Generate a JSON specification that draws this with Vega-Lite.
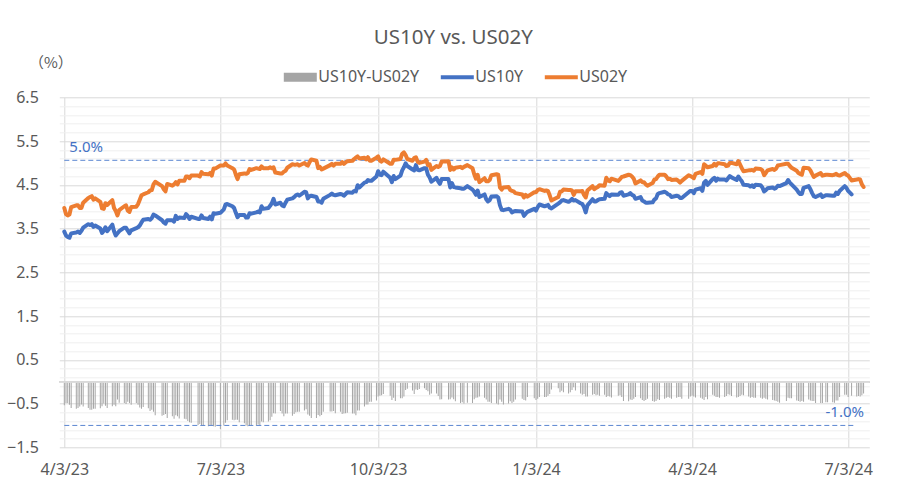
{
  "$schema": "https://vega.github.io/schema/vega-lite/v6.json",
  "width": 810,
  "height": 350,
  "autosize": "none",
  "padding": {"left": 59.3, "top": 97.3, "right": 36.7, "bottom": 41.7},
  "background": "white",
  "title": {"text": "US10Y vs. US02Y", "fontSize": 20.5, "font": "Noto Sans", "fontWeight": "normal", "color": "#595959", "anchor": "middle", "frame": "group", "dx": -11, "offset": 7},
  "config": {
    "view": {"stroke": null},
    "axis": {"labelFont": "Noto Sans", "labelColor": "#595959", "titleFont": "Noto Sans CJK JP", "titleColor": "#595959"},
    "legend": {"labelFont": "Noto Sans"}
  },
  "data": {
    "format": {"parse": {"d": "date:'%Y-%m-%d'"}},
    "values": [
{"d":"2023-04-03","US10Y":3.43,"US02Y":3.97,"s":-0.54},
{"d":"2023-04-04","US10Y":3.34,"US02Y":3.83,"s":-0.49},
{"d":"2023-04-05","US10Y":3.31,"US02Y":3.80,"s":-0.49},
{"d":"2023-04-06","US10Y":3.29,"US02Y":3.82,"s":-0.53},
{"d":"2023-04-07","US10Y":3.39,"US02Y":3.99,"s":-0.60},
{"d":"2023-04-10","US10Y":3.41,"US02Y":4.03,"s":-0.62},
{"d":"2023-04-11","US10Y":3.43,"US02Y":4.03,"s":-0.60},
{"d":"2023-04-12","US10Y":3.40,"US02Y":3.97,"s":-0.57},
{"d":"2023-04-13","US10Y":3.45,"US02Y":3.97,"s":-0.52},
{"d":"2023-04-14","US10Y":3.52,"US02Y":4.09,"s":-0.57},
{"d":"2023-04-17","US10Y":3.60,"US02Y":4.20,"s":-0.60},
{"d":"2023-04-18","US10Y":3.58,"US02Y":4.22,"s":-0.64},
{"d":"2023-04-19","US10Y":3.60,"US02Y":4.24,"s":-0.64},
{"d":"2023-04-20","US10Y":3.54,"US02Y":4.16,"s":-0.62},
{"d":"2023-04-21","US10Y":3.57,"US02Y":4.19,"s":-0.62},
{"d":"2023-04-24","US10Y":3.50,"US02Y":4.11,"s":-0.61},
{"d":"2023-04-25","US10Y":3.40,"US02Y":3.96,"s":-0.56},
{"d":"2023-04-26","US10Y":3.45,"US02Y":3.95,"s":-0.50},
{"d":"2023-04-27","US10Y":3.53,"US02Y":4.08,"s":-0.55},
{"d":"2023-04-28","US10Y":3.44,"US02Y":4.04,"s":-0.60},
{"d":"2023-05-01","US10Y":3.59,"US02Y":4.15,"s":-0.56},
{"d":"2023-05-02","US10Y":3.44,"US02Y":3.97,"s":-0.53},
{"d":"2023-05-03","US10Y":3.34,"US02Y":3.90,"s":-0.56},
{"d":"2023-05-04","US10Y":3.39,"US02Y":3.80,"s":-0.41},
{"d":"2023-05-05","US10Y":3.44,"US02Y":3.92,"s":-0.48},
{"d":"2023-05-08","US10Y":3.52,"US02Y":4.01,"s":-0.49},
{"d":"2023-05-09","US10Y":3.52,"US02Y":4.03,"s":-0.51},
{"d":"2023-05-10","US10Y":3.45,"US02Y":3.91,"s":-0.46},
{"d":"2023-05-11","US10Y":3.39,"US02Y":3.88,"s":-0.49},
{"d":"2023-05-12","US10Y":3.46,"US02Y":3.99,"s":-0.53},
{"d":"2023-05-15","US10Y":3.51,"US02Y":4.00,"s":-0.49},
{"d":"2023-05-16","US10Y":3.53,"US02Y":4.06,"s":-0.53},
{"d":"2023-05-17","US10Y":3.57,"US02Y":4.16,"s":-0.59},
{"d":"2023-05-18","US10Y":3.64,"US02Y":4.26,"s":-0.62},
{"d":"2023-05-19","US10Y":3.70,"US02Y":4.28,"s":-0.58},
{"d":"2023-05-22","US10Y":3.72,"US02Y":4.33,"s":-0.61},
{"d":"2023-05-23","US10Y":3.70,"US02Y":4.37,"s":-0.67},
{"d":"2023-05-24","US10Y":3.74,"US02Y":4.38,"s":-0.64},
{"d":"2023-05-25","US10Y":3.82,"US02Y":4.51,"s":-0.69},
{"d":"2023-05-26","US10Y":3.80,"US02Y":4.57,"s":-0.77},
{"d":"2023-05-30","US10Y":3.69,"US02Y":4.47,"s":-0.78},
{"d":"2023-05-31","US10Y":3.64,"US02Y":4.40,"s":-0.76},
{"d":"2023-06-01","US10Y":3.61,"US02Y":4.35,"s":-0.74},
{"d":"2023-06-02","US10Y":3.69,"US02Y":4.52,"s":-0.83},
{"d":"2023-06-05","US10Y":3.69,"US02Y":4.48,"s":-0.79},
{"d":"2023-06-06","US10Y":3.66,"US02Y":4.51,"s":-0.85},
{"d":"2023-06-07","US10Y":3.79,"US02Y":4.56,"s":-0.77},
{"d":"2023-06-08","US10Y":3.72,"US02Y":4.51,"s":-0.79},
{"d":"2023-06-09","US10Y":3.75,"US02Y":4.59,"s":-0.84},
{"d":"2023-06-12","US10Y":3.74,"US02Y":4.59,"s":-0.85},
{"d":"2023-06-13","US10Y":3.83,"US02Y":4.69,"s":-0.86},
{"d":"2023-06-14","US10Y":3.79,"US02Y":4.69,"s":-0.90},
{"d":"2023-06-15","US10Y":3.72,"US02Y":4.65,"s":-0.93},
{"d":"2023-06-16","US10Y":3.77,"US02Y":4.71,"s":-0.94},
{"d":"2023-06-20","US10Y":3.72,"US02Y":4.71,"s":-0.99},
{"d":"2023-06-21","US10Y":3.72,"US02Y":4.69,"s":-0.97},
{"d":"2023-06-22","US10Y":3.80,"US02Y":4.79,"s":-0.99},
{"d":"2023-06-23","US10Y":3.74,"US02Y":4.75,"s":-1.01},
{"d":"2023-06-26","US10Y":3.72,"US02Y":4.74,"s":-1.02},
{"d":"2023-06-27","US10Y":3.77,"US02Y":4.77,"s":-1.00},
{"d":"2023-06-28","US10Y":3.71,"US02Y":4.71,"s":-1.00},
{"d":"2023-06-29","US10Y":3.85,"US02Y":4.87,"s":-1.02},
{"d":"2023-06-30","US10Y":3.84,"US02Y":4.87,"s":-1.03},
{"d":"2023-07-03","US10Y":3.86,"US02Y":4.94,"s":-1.08},
{"d":"2023-07-05","US10Y":3.94,"US02Y":4.94,"s":-1.00},
{"d":"2023-07-06","US10Y":4.05,"US02Y":4.99,"s":-0.94},
{"d":"2023-07-07","US10Y":4.06,"US02Y":4.94,"s":-0.88},
{"d":"2023-07-10","US10Y":4.01,"US02Y":4.88,"s":-0.87},
{"d":"2023-07-11","US10Y":3.97,"US02Y":4.85,"s":-0.88},
{"d":"2023-07-12","US10Y":3.86,"US02Y":4.73,"s":-0.87},
{"d":"2023-07-13","US10Y":3.76,"US02Y":4.63,"s":-0.87},
{"d":"2023-07-14","US10Y":3.81,"US02Y":4.74,"s":-0.93},
{"d":"2023-07-17","US10Y":3.81,"US02Y":4.76,"s":-0.95},
{"d":"2023-07-18","US10Y":3.75,"US02Y":4.75,"s":-1.00},
{"d":"2023-07-19","US10Y":3.75,"US02Y":4.77,"s":-1.02},
{"d":"2023-07-20","US10Y":3.85,"US02Y":4.86,"s":-1.01},
{"d":"2023-07-21","US10Y":3.84,"US02Y":4.84,"s":-1.00},
{"d":"2023-07-24","US10Y":3.87,"US02Y":4.88,"s":-1.01},
{"d":"2023-07-25","US10Y":3.89,"US02Y":4.87,"s":-0.98},
{"d":"2023-07-26","US10Y":3.87,"US02Y":4.86,"s":-0.99},
{"d":"2023-07-27","US10Y":4.01,"US02Y":4.92,"s":-0.91},
{"d":"2023-07-28","US10Y":3.95,"US02Y":4.88,"s":-0.93},
{"d":"2023-07-31","US10Y":3.97,"US02Y":4.88,"s":-0.91},
{"d":"2023-08-01","US10Y":4.02,"US02Y":4.90,"s":-0.88},
{"d":"2023-08-02","US10Y":4.08,"US02Y":4.88,"s":-0.80},
{"d":"2023-08-03","US10Y":4.18,"US02Y":4.90,"s":-0.72},
{"d":"2023-08-04","US10Y":4.05,"US02Y":4.78,"s":-0.73},
{"d":"2023-08-07","US10Y":4.09,"US02Y":4.76,"s":-0.67},
{"d":"2023-08-08","US10Y":4.03,"US02Y":4.76,"s":-0.73},
{"d":"2023-08-09","US10Y":4.01,"US02Y":4.80,"s":-0.79},
{"d":"2023-08-10","US10Y":4.09,"US02Y":4.82,"s":-0.73},
{"d":"2023-08-11","US10Y":4.16,"US02Y":4.89,"s":-0.73},
{"d":"2023-08-14","US10Y":4.19,"US02Y":4.97,"s":-0.78},
{"d":"2023-08-15","US10Y":4.22,"US02Y":4.96,"s":-0.74},
{"d":"2023-08-16","US10Y":4.26,"US02Y":4.96,"s":-0.70},
{"d":"2023-08-17","US10Y":4.28,"US02Y":4.97,"s":-0.69},
{"d":"2023-08-18","US10Y":4.25,"US02Y":4.94,"s":-0.69},
{"d":"2023-08-21","US10Y":4.34,"US02Y":5.00,"s":-0.66},
{"d":"2023-08-22","US10Y":4.33,"US02Y":4.96,"s":-0.63},
{"d":"2023-08-23","US10Y":4.19,"US02Y":4.94,"s":-0.75},
{"d":"2023-08-24","US10Y":4.24,"US02Y":5.02,"s":-0.78},
{"d":"2023-08-25","US10Y":4.25,"US02Y":5.08,"s":-0.83},
{"d":"2023-08-28","US10Y":4.22,"US02Y":5.05,"s":-0.83},
{"d":"2023-08-29","US10Y":4.12,"US02Y":4.88,"s":-0.76},
{"d":"2023-08-30","US10Y":4.12,"US02Y":4.91,"s":-0.79},
{"d":"2023-08-31","US10Y":4.09,"US02Y":4.85,"s":-0.76},
{"d":"2023-09-01","US10Y":4.18,"US02Y":4.87,"s":-0.69},
{"d":"2023-09-05","US10Y":4.27,"US02Y":4.95,"s":-0.68},
{"d":"2023-09-06","US10Y":4.30,"US02Y":4.98,"s":-0.68},
{"d":"2023-09-07","US10Y":4.27,"US02Y":4.94,"s":-0.67},
{"d":"2023-09-08","US10Y":4.26,"US02Y":4.98,"s":-0.72},
{"d":"2023-09-11","US10Y":4.29,"US02Y":4.98,"s":-0.69},
{"d":"2023-09-12","US10Y":4.28,"US02Y":5.02,"s":-0.74},
{"d":"2023-09-13","US10Y":4.25,"US02Y":4.98,"s":-0.73},
{"d":"2023-09-14","US10Y":4.29,"US02Y":5.01,"s":-0.72},
{"d":"2023-09-15","US10Y":4.33,"US02Y":5.04,"s":-0.71},
{"d":"2023-09-18","US10Y":4.32,"US02Y":5.05,"s":-0.73},
{"d":"2023-09-19","US10Y":4.36,"US02Y":5.09,"s":-0.73},
{"d":"2023-09-20","US10Y":4.35,"US02Y":5.12,"s":-0.77},
{"d":"2023-09-21","US10Y":4.49,"US02Y":5.15,"s":-0.66},
{"d":"2023-09-22","US10Y":4.44,"US02Y":5.10,"s":-0.66},
{"d":"2023-09-25","US10Y":4.55,"US02Y":5.12,"s":-0.57},
{"d":"2023-09-26","US10Y":4.56,"US02Y":5.08,"s":-0.52},
{"d":"2023-09-27","US10Y":4.61,"US02Y":5.13,"s":-0.52},
{"d":"2023-09-28","US10Y":4.59,"US02Y":5.05,"s":-0.46},
{"d":"2023-09-29","US10Y":4.59,"US02Y":5.05,"s":-0.46},
{"d":"2023-10-02","US10Y":4.69,"US02Y":5.12,"s":-0.43},
{"d":"2023-10-03","US10Y":4.81,"US02Y":5.15,"s":-0.34},
{"d":"2023-10-04","US10Y":4.73,"US02Y":5.05,"s":-0.32},
{"d":"2023-10-05","US10Y":4.72,"US02Y":5.03,"s":-0.31},
{"d":"2023-10-06","US10Y":4.80,"US02Y":5.08,"s":-0.28},
{"d":"2023-10-10","US10Y":4.66,"US02Y":4.98,"s":-0.32},
{"d":"2023-10-11","US10Y":4.56,"US02Y":4.98,"s":-0.42},
{"d":"2023-10-12","US10Y":4.70,"US02Y":5.07,"s":-0.37},
{"d":"2023-10-13","US10Y":4.63,"US02Y":5.07,"s":-0.44},
{"d":"2023-10-16","US10Y":4.71,"US02Y":5.09,"s":-0.38},
{"d":"2023-10-17","US10Y":4.83,"US02Y":5.21,"s":-0.38},
{"d":"2023-10-18","US10Y":4.90,"US02Y":5.24,"s":-0.34},
{"d":"2023-10-19","US10Y":4.99,"US02Y":5.18,"s":-0.19},
{"d":"2023-10-20","US10Y":4.93,"US02Y":5.09,"s":-0.16},
{"d":"2023-10-23","US10Y":4.85,"US02Y":5.05,"s":-0.20},
{"d":"2023-10-24","US10Y":4.83,"US02Y":5.11,"s":-0.28},
{"d":"2023-10-25","US10Y":4.95,"US02Y":5.13,"s":-0.18},
{"d":"2023-10-26","US10Y":4.84,"US02Y":5.03,"s":-0.19},
{"d":"2023-10-27","US10Y":4.83,"US02Y":5.00,"s":-0.17},
{"d":"2023-10-30","US10Y":4.88,"US02Y":5.03,"s":-0.15},
{"d":"2023-10-31","US10Y":4.88,"US02Y":5.07,"s":-0.19},
{"d":"2023-11-01","US10Y":4.73,"US02Y":4.95,"s":-0.22},
{"d":"2023-11-02","US10Y":4.67,"US02Y":4.97,"s":-0.30},
{"d":"2023-11-03","US10Y":4.57,"US02Y":4.84,"s":-0.27},
{"d":"2023-11-06","US10Y":4.66,"US02Y":4.93,"s":-0.27},
{"d":"2023-11-07","US10Y":4.58,"US02Y":4.91,"s":-0.33},
{"d":"2023-11-08","US10Y":4.52,"US02Y":4.93,"s":-0.41},
{"d":"2023-11-09","US10Y":4.63,"US02Y":5.03,"s":-0.40},
{"d":"2023-11-13","US10Y":4.63,"US02Y":5.04,"s":-0.41},
{"d":"2023-11-14","US10Y":4.44,"US02Y":4.84,"s":-0.40},
{"d":"2023-11-15","US10Y":4.54,"US02Y":4.90,"s":-0.36},
{"d":"2023-11-16","US10Y":4.45,"US02Y":4.85,"s":-0.40},
{"d":"2023-11-17","US10Y":4.44,"US02Y":4.89,"s":-0.45},
{"d":"2023-11-20","US10Y":4.42,"US02Y":4.91,"s":-0.49},
{"d":"2023-11-21","US10Y":4.41,"US02Y":4.88,"s":-0.47},
{"d":"2023-11-22","US10Y":4.41,"US02Y":4.91,"s":-0.50},
{"d":"2023-11-24","US10Y":4.47,"US02Y":4.95,"s":-0.48},
{"d":"2023-11-27","US10Y":4.39,"US02Y":4.88,"s":-0.49},
{"d":"2023-11-28","US10Y":4.34,"US02Y":4.74,"s":-0.40},
{"d":"2023-11-29","US10Y":4.27,"US02Y":4.64,"s":-0.37},
{"d":"2023-11-30","US10Y":4.37,"US02Y":4.73,"s":-0.36},
{"d":"2023-12-01","US10Y":4.22,"US02Y":4.56,"s":-0.34},
{"d":"2023-12-04","US10Y":4.28,"US02Y":4.65,"s":-0.37},
{"d":"2023-12-05","US10Y":4.17,"US02Y":4.58,"s":-0.41},
{"d":"2023-12-06","US10Y":4.12,"US02Y":4.58,"s":-0.46},
{"d":"2023-12-07","US10Y":4.15,"US02Y":4.61,"s":-0.46},
{"d":"2023-12-08","US10Y":4.23,"US02Y":4.72,"s":-0.49},
{"d":"2023-12-11","US10Y":4.24,"US02Y":4.74,"s":-0.50},
{"d":"2023-12-12","US10Y":4.21,"US02Y":4.73,"s":-0.52},
{"d":"2023-12-13","US10Y":4.03,"US02Y":4.44,"s":-0.41},
{"d":"2023-12-14","US10Y":3.93,"US02Y":4.39,"s":-0.46},
{"d":"2023-12-15","US10Y":3.92,"US02Y":4.44,"s":-0.52},
{"d":"2023-12-18","US10Y":3.95,"US02Y":4.45,"s":-0.50},
{"d":"2023-12-19","US10Y":3.93,"US02Y":4.38,"s":-0.45},
{"d":"2023-12-20","US10Y":3.87,"US02Y":4.36,"s":-0.49},
{"d":"2023-12-21","US10Y":3.89,"US02Y":4.35,"s":-0.46},
{"d":"2023-12-22","US10Y":3.90,"US02Y":4.31,"s":-0.41},
{"d":"2023-12-26","US10Y":3.89,"US02Y":4.28,"s":-0.39},
{"d":"2023-12-27","US10Y":3.79,"US02Y":4.21,"s":-0.42},
{"d":"2023-12-28","US10Y":3.84,"US02Y":4.27,"s":-0.43},
{"d":"2023-12-29","US10Y":3.88,"US02Y":4.23,"s":-0.35},
{"d":"2024-01-02","US10Y":3.95,"US02Y":4.33,"s":-0.38},
{"d":"2024-01-03","US10Y":3.91,"US02Y":4.33,"s":-0.42},
{"d":"2024-01-04","US10Y":3.99,"US02Y":4.38,"s":-0.39},
{"d":"2024-01-05","US10Y":4.05,"US02Y":4.40,"s":-0.35},
{"d":"2024-01-08","US10Y":4.01,"US02Y":4.36,"s":-0.35},
{"d":"2024-01-09","US10Y":4.02,"US02Y":4.37,"s":-0.35},
{"d":"2024-01-10","US10Y":4.04,"US02Y":4.36,"s":-0.32},
{"d":"2024-01-11","US10Y":3.98,"US02Y":4.26,"s":-0.28},
{"d":"2024-01-12","US10Y":3.96,"US02Y":4.14,"s":-0.18},
{"d":"2024-01-16","US10Y":4.07,"US02Y":4.22,"s":-0.15},
{"d":"2024-01-17","US10Y":4.10,"US02Y":4.34,"s":-0.24},
{"d":"2024-01-18","US10Y":4.14,"US02Y":4.35,"s":-0.21},
{"d":"2024-01-19","US10Y":4.15,"US02Y":4.39,"s":-0.24},
{"d":"2024-01-22","US10Y":4.11,"US02Y":4.38,"s":-0.27},
{"d":"2024-01-23","US10Y":4.14,"US02Y":4.38,"s":-0.24},
{"d":"2024-01-24","US10Y":4.18,"US02Y":4.37,"s":-0.19},
{"d":"2024-01-25","US10Y":4.14,"US02Y":4.27,"s":-0.13},
{"d":"2024-01-26","US10Y":4.15,"US02Y":4.35,"s":-0.20},
{"d":"2024-01-29","US10Y":4.08,"US02Y":4.35,"s":-0.27},
{"d":"2024-01-30","US10Y":4.06,"US02Y":4.36,"s":-0.30},
{"d":"2024-01-31","US10Y":3.99,"US02Y":4.27,"s":-0.28},
{"d":"2024-02-01","US10Y":3.87,"US02Y":4.21,"s":-0.34},
{"d":"2024-02-02","US10Y":4.03,"US02Y":4.37,"s":-0.34},
{"d":"2024-02-05","US10Y":4.17,"US02Y":4.47,"s":-0.30},
{"d":"2024-02-06","US10Y":4.12,"US02Y":4.40,"s":-0.28},
{"d":"2024-02-07","US10Y":4.12,"US02Y":4.43,"s":-0.31},
{"d":"2024-02-08","US10Y":4.15,"US02Y":4.45,"s":-0.30},
{"d":"2024-02-09","US10Y":4.17,"US02Y":4.49,"s":-0.32},
{"d":"2024-02-12","US10Y":4.18,"US02Y":4.48,"s":-0.30},
{"d":"2024-02-13","US10Y":4.31,"US02Y":4.66,"s":-0.35},
{"d":"2024-02-14","US10Y":4.27,"US02Y":4.60,"s":-0.33},
{"d":"2024-02-15","US10Y":4.24,"US02Y":4.58,"s":-0.34},
{"d":"2024-02-16","US10Y":4.28,"US02Y":4.64,"s":-0.36},
{"d":"2024-02-20","US10Y":4.27,"US02Y":4.59,"s":-0.32},
{"d":"2024-02-21","US10Y":4.32,"US02Y":4.63,"s":-0.31},
{"d":"2024-02-22","US10Y":4.33,"US02Y":4.68,"s":-0.35},
{"d":"2024-02-23","US10Y":4.25,"US02Y":4.69,"s":-0.44},
{"d":"2024-02-26","US10Y":4.28,"US02Y":4.73,"s":-0.45},
{"d":"2024-02-27","US10Y":4.31,"US02Y":4.72,"s":-0.41},
{"d":"2024-02-28","US10Y":4.27,"US02Y":4.69,"s":-0.42},
{"d":"2024-02-29","US10Y":4.25,"US02Y":4.64,"s":-0.39},
{"d":"2024-03-01","US10Y":4.18,"US02Y":4.53,"s":-0.35},
{"d":"2024-03-04","US10Y":4.22,"US02Y":4.60,"s":-0.38},
{"d":"2024-03-05","US10Y":4.14,"US02Y":4.56,"s":-0.42},
{"d":"2024-03-06","US10Y":4.12,"US02Y":4.56,"s":-0.44},
{"d":"2024-03-07","US10Y":4.09,"US02Y":4.51,"s":-0.42},
{"d":"2024-03-08","US10Y":4.09,"US02Y":4.48,"s":-0.39},
{"d":"2024-03-11","US10Y":4.10,"US02Y":4.54,"s":-0.44},
{"d":"2024-03-12","US10Y":4.16,"US02Y":4.62,"s":-0.46},
{"d":"2024-03-13","US10Y":4.19,"US02Y":4.63,"s":-0.44},
{"d":"2024-03-14","US10Y":4.29,"US02Y":4.69,"s":-0.40},
{"d":"2024-03-15","US10Y":4.31,"US02Y":4.73,"s":-0.42},
{"d":"2024-03-18","US10Y":4.34,"US02Y":4.73,"s":-0.39},
{"d":"2024-03-19","US10Y":4.32,"US02Y":4.69,"s":-0.37},
{"d":"2024-03-20","US10Y":4.28,"US02Y":4.63,"s":-0.35},
{"d":"2024-03-21","US10Y":4.27,"US02Y":4.64,"s":-0.37},
{"d":"2024-03-22","US10Y":4.22,"US02Y":4.61,"s":-0.39},
{"d":"2024-03-25","US10Y":4.25,"US02Y":4.62,"s":-0.37},
{"d":"2024-03-26","US10Y":4.24,"US02Y":4.59,"s":-0.35},
{"d":"2024-03-27","US10Y":4.20,"US02Y":4.55,"s":-0.35},
{"d":"2024-03-28","US10Y":4.20,"US02Y":4.59,"s":-0.39},
{"d":"2024-04-01","US10Y":4.33,"US02Y":4.72,"s":-0.39},
{"d":"2024-04-02","US10Y":4.36,"US02Y":4.70,"s":-0.34},
{"d":"2024-04-03","US10Y":4.36,"US02Y":4.68,"s":-0.32},
{"d":"2024-04-04","US10Y":4.31,"US02Y":4.65,"s":-0.34},
{"d":"2024-04-05","US10Y":4.39,"US02Y":4.75,"s":-0.36},
{"d":"2024-04-08","US10Y":4.42,"US02Y":4.79,"s":-0.37},
{"d":"2024-04-09","US10Y":4.36,"US02Y":4.75,"s":-0.39},
{"d":"2024-04-10","US10Y":4.55,"US02Y":4.97,"s":-0.42},
{"d":"2024-04-11","US10Y":4.59,"US02Y":4.94,"s":-0.35},
{"d":"2024-04-12","US10Y":4.50,"US02Y":4.90,"s":-0.40},
{"d":"2024-04-15","US10Y":4.63,"US02Y":4.93,"s":-0.30},
{"d":"2024-04-16","US10Y":4.66,"US02Y":4.98,"s":-0.32},
{"d":"2024-04-17","US10Y":4.59,"US02Y":4.94,"s":-0.35},
{"d":"2024-04-18","US10Y":4.64,"US02Y":4.99,"s":-0.35},
{"d":"2024-04-19","US10Y":4.62,"US02Y":4.99,"s":-0.37},
{"d":"2024-04-22","US10Y":4.62,"US02Y":4.97,"s":-0.35},
{"d":"2024-04-23","US10Y":4.60,"US02Y":4.93,"s":-0.33},
{"d":"2024-04-24","US10Y":4.65,"US02Y":4.94,"s":-0.29},
{"d":"2024-04-25","US10Y":4.70,"US02Y":5.00,"s":-0.30},
{"d":"2024-04-26","US10Y":4.67,"US02Y":5.00,"s":-0.33},
{"d":"2024-04-29","US10Y":4.61,"US02Y":4.97,"s":-0.36},
{"d":"2024-04-30","US10Y":4.69,"US02Y":5.04,"s":-0.35},
{"d":"2024-05-01","US10Y":4.63,"US02Y":4.96,"s":-0.33},
{"d":"2024-05-02","US10Y":4.58,"US02Y":4.88,"s":-0.30},
{"d":"2024-05-03","US10Y":4.50,"US02Y":4.81,"s":-0.31},
{"d":"2024-05-06","US10Y":4.49,"US02Y":4.83,"s":-0.34},
{"d":"2024-05-07","US10Y":4.46,"US02Y":4.83,"s":-0.37},
{"d":"2024-05-08","US10Y":4.49,"US02Y":4.84,"s":-0.35},
{"d":"2024-05-09","US10Y":4.45,"US02Y":4.82,"s":-0.37},
{"d":"2024-05-10","US10Y":4.50,"US02Y":4.87,"s":-0.37},
{"d":"2024-05-13","US10Y":4.49,"US02Y":4.86,"s":-0.37},
{"d":"2024-05-14","US10Y":4.44,"US02Y":4.83,"s":-0.39},
{"d":"2024-05-15","US10Y":4.35,"US02Y":4.72,"s":-0.37},
{"d":"2024-05-16","US10Y":4.38,"US02Y":4.77,"s":-0.39},
{"d":"2024-05-17","US10Y":4.42,"US02Y":4.83,"s":-0.41},
{"d":"2024-05-20","US10Y":4.44,"US02Y":4.86,"s":-0.42},
{"d":"2024-05-21","US10Y":4.41,"US02Y":4.84,"s":-0.43},
{"d":"2024-05-22","US10Y":4.43,"US02Y":4.87,"s":-0.44},
{"d":"2024-05-23","US10Y":4.48,"US02Y":4.94,"s":-0.46},
{"d":"2024-05-24","US10Y":4.47,"US02Y":4.95,"s":-0.48},
{"d":"2024-05-28","US10Y":4.54,"US02Y":4.98,"s":-0.44},
{"d":"2024-05-29","US10Y":4.61,"US02Y":4.98,"s":-0.37},
{"d":"2024-05-30","US10Y":4.55,"US02Y":4.93,"s":-0.38},
{"d":"2024-05-31","US10Y":4.51,"US02Y":4.89,"s":-0.38},
{"d":"2024-06-03","US10Y":4.39,"US02Y":4.82,"s":-0.43},
{"d":"2024-06-04","US10Y":4.33,"US02Y":4.77,"s":-0.44},
{"d":"2024-06-05","US10Y":4.29,"US02Y":4.75,"s":-0.46},
{"d":"2024-06-06","US10Y":4.29,"US02Y":4.73,"s":-0.44},
{"d":"2024-06-07","US10Y":4.43,"US02Y":4.89,"s":-0.46},
{"d":"2024-06-10","US10Y":4.47,"US02Y":4.88,"s":-0.41},
{"d":"2024-06-11","US10Y":4.40,"US02Y":4.83,"s":-0.43},
{"d":"2024-06-12","US10Y":4.31,"US02Y":4.75,"s":-0.44},
{"d":"2024-06-13","US10Y":4.24,"US02Y":4.68,"s":-0.44},
{"d":"2024-06-14","US10Y":4.22,"US02Y":4.71,"s":-0.49},
{"d":"2024-06-17","US10Y":4.28,"US02Y":4.77,"s":-0.49},
{"d":"2024-06-18","US10Y":4.22,"US02Y":4.71,"s":-0.49},
{"d":"2024-06-20","US10Y":4.26,"US02Y":4.73,"s":-0.47},
{"d":"2024-06-21","US10Y":4.26,"US02Y":4.73,"s":-0.47},
{"d":"2024-06-24","US10Y":4.25,"US02Y":4.72,"s":-0.47},
{"d":"2024-06-25","US10Y":4.25,"US02Y":4.73,"s":-0.48},
{"d":"2024-06-26","US10Y":4.32,"US02Y":4.75,"s":-0.43},
{"d":"2024-06-27","US10Y":4.29,"US02Y":4.72,"s":-0.43},
{"d":"2024-06-28","US10Y":4.36,"US02Y":4.71,"s":-0.35},
{"d":"2024-07-01","US10Y":4.47,"US02Y":4.77,"s":-0.30},
{"d":"2024-07-02","US10Y":4.43,"US02Y":4.73,"s":-0.30},
{"d":"2024-07-03","US10Y":4.36,"US02Y":4.71,"s":-0.35},
{"d":"2024-07-05","US10Y":4.28,"US02Y":4.60,"s":-0.32},
{"d":"2024-07-08","US02Y":4.62,"s":-0.34},
{"d":"2024-07-09","US02Y":4.63,"s":-0.33},
{"d":"2024-07-10","US02Y":4.62,"s":-0.34},
{"d":"2024-07-11","US02Y":4.51,"s":-0.31},
{"d":"2024-07-12","US02Y":4.45,"s":-0.27}
    ]
  },
  "layer": [
    {
      "mark": {"type": "bar", "size": 1},
      "encoding": {
        "x": {
          "field": "d", "type": "temporal",
          "scale": {"domain": [{"year": 2023, "month": 4, "date": 3}, {"year": 2024, "month": 7, "date": 12, "hours": 10}]},
          "axis": {
            "title": null,
            "values": [{"year": 2023, "month": 4, "date": 3}, {"year": 2023, "month": 7, "date": 3}, {"year": 2023, "month": 10, "date": 3}, {"year": 2024, "month": 1, "date": 3}, {"year": 2024, "month": 4, "date": 3}, {"year": 2024, "month": 7, "date": 3}],
            "format": "%-m/%-d/%y",
            "grid": true, "gridColor": "#D9D9D9", "ticks": false, "domain": false,
            "labelPadding": 14, "labelFontSize": 16, "labelOverlap": false
          }
        },
        "y": {
          "field": "s", "type": "quantitative",
          "scale": {"domain": [-1.5, 6.5], "nice": false, "zero": false},
          "axis": {
            "values": [-1.5,-1.3,-1.1,-0.9,-0.7,-0.5,-0.3,-0.1,0.1,0.3,0.5,0.7,0.9,1.1,1.3,1.5,1.7,1.9,2.1,2.3,2.5,2.7,2.9,3.1,3.3,3.5,3.7,3.9,4.1,4.3,4.5,4.7,4.9,5.1,5.3,5.5,5.7,5.9,6.1,6.3,6.5],
            "tickCount": 200,
            "labelExpr": "indexof([-1.5,-0.5,0.5,1.5,2.5,3.5,4.5,5.5,6.5], datum.value) >= 0 ? format(datum.value, '.1f') : ''",
            "grid": true,
            "gridColor": {"condition": {"test": "indexof([-1.5,-0.5,0.5,1.5,2.5,3.5,4.5,5.5,6.5], datum.value) >= 0", "value": "#D9D9D9"}, "value": "#EFEFEF"},
            "ticks": false, "domain": false, "labelOverlap": false,
            "labelPadding": 21, "labelFontSize": 16,
            "title": "（%）", "titleAngle": 0, "titleFontSize": 15, "titleFontWeight": "normal",
            "titleAlign": "center", "titleBaseline": "middle", "titleX": -9, "titleY": -35
          }
        },
        "color": {
          "datum": "US10Y-US02Y",
          "title": null,
          "scale": {"domain": ["US10Y-US02Y", "US10Y", "US02Y"], "range": ["#A5A5A5", "#4472C4", "#ED7D31"]},
          "legend": {
            "orient": "none", "legendX": 233, "legendY": -28, "direction": "horizontal", "title": null,
            "padding": 0, "labelFontSize": 16, "labelColor": "#595959", "labelOffset": 10, "columnPadding": 13,
            "symbolSize": 1089, "labelLimit": 300,
            "encode": {
              "symbols": {
                "update": {
                  "shape": {"signal": "datum.value === 'US10Y-US02Y' ? 'M-1,-0.27L1,-0.27L1,0.27L-1,0.27Z' : 'M-1,0L1,0'"},
                  "fill": {"signal": "datum.value === 'US10Y-US02Y' ? '#A5A5A5' : 'transparent'"},
                  "stroke": {"signal": "datum.value === 'US10Y' ? '#4472C4' : datum.value === 'US02Y' ? '#ED7D31' : 'transparent'"},
                  "strokeWidth": {"signal": "datum.value === 'US10Y-US02Y' ? 0 : 4"},
                  "opacity": {"value": 1}
                }
              }
            }
          }
        }
      }
    },
    {
      "mark": {"type": "rule", "color": "#D9D9D9", "strokeWidth": 1},
      "encoding": {"y": {"datum": 0, "type": "quantitative"}}
    },
    {
      "data": {"values": [
        {"y": 5.06, "d1": "2023-04-03", "d2": "2024-07-07", "label": "5.0%"},
        {"y": -1.0, "d1": "2023-04-03", "d2": "2024-07-07", "label": "-1.0%"}
      ], "format": {"parse": {"d1": "date:'%Y-%m-%d'", "d2": "date:'%Y-%m-%d'"}}},
      "layer": [
        {
          "mark": {"type": "rule", "color": "#5B86D1", "strokeWidth": 1, "strokeDash": [5, 3]},
          "encoding": {
            "x": {"field": "d1", "type": "temporal"},
            "x2": {"field": "d2"},
            "y": {"field": "y", "type": "quantitative"}
          }
        },
        {
          "transform": [{"filter": "datum.label === '5.0%'"}],
          "mark": {"type": "text", "align": "left", "baseline": "middle", "dx": 5, "dy": -13, "fontSize": 15, "font": "Noto Sans", "color": "#4472C4"},
          "encoding": {
            "x": {"field": "d1", "type": "temporal"},
            "y": {"field": "y", "type": "quantitative"},
            "text": {"field": "label"}
          }
        },
        {
          "transform": [{"filter": "datum.label === '-1.0%'"}],
          "mark": {"type": "text", "align": "right", "baseline": "middle", "dx": 9, "dy": -13, "fontSize": 15, "font": "Noto Sans", "color": "#4472C4"},
          "encoding": {
            "x": {"field": "d2", "type": "temporal"},
            "y": {"field": "y", "type": "quantitative"},
            "text": {"field": "label"}
          }
        }
      ]
    },
    {
      "transform": [{"fold": ["US10Y", "US02Y"], "as": ["series", "rate"]}],
      "mark": {"type": "line", "strokeWidth": 4, "strokeJoin": "round", "strokeCap": "round"},
      "encoding": {
        "x": {"field": "d", "type": "temporal"},
        "y": {"field": "rate", "type": "quantitative"},
        "color": {"field": "series", "type": "nominal", "title": null}
      }
    }
  ]
}
